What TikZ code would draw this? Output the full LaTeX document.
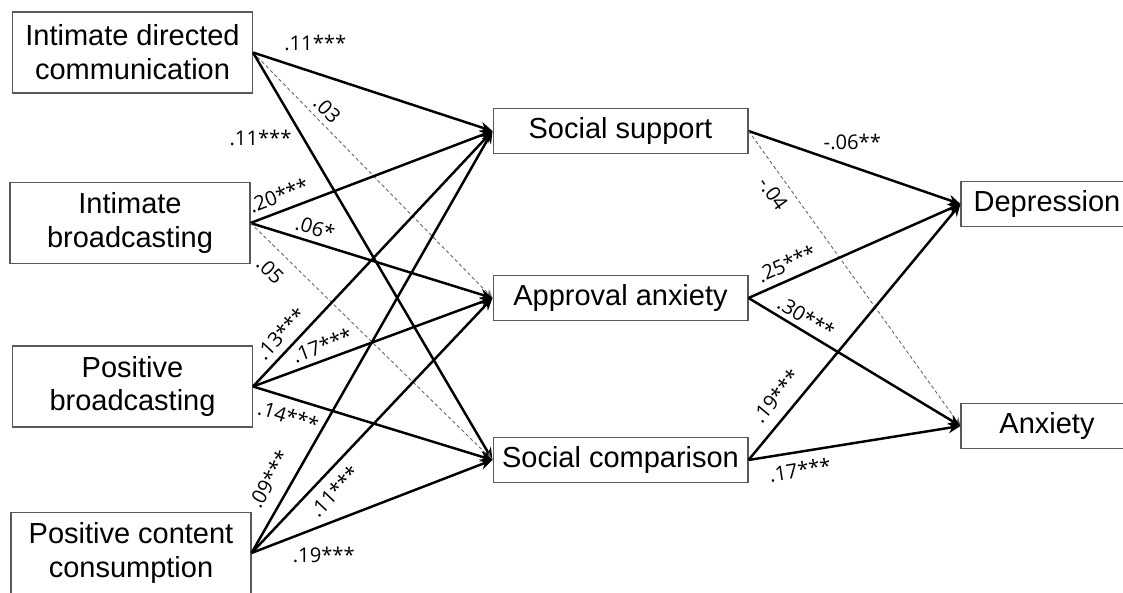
\documentclass[tikz,border=0pt]{standalone}
\usepackage{fontspec}
\setmainfont{Liberation Sans}
\newfontfamily\coeffont{Open Sans}
\usetikzlibrary{arrows.meta, positioning}
\tikzset{
	leftbox/.style={draw=black!65, line width=0.6pt, minimum width=4.8cm, minimum height=1.62cm,
			align=center, font=\fontsize{16.5}{19.3}\selectfont}
}
\tikzset{
	midbox/.style={draw=black!65, line width=0.6pt, minimum width=5.1cm, minimum height=0.9cm,
			font=\fontsize{16.5}{19.3}\selectfont}
}
\tikzset{
	rightbox/.style={midbox, minimum width=3.44cm}
}
\tikzset{
	coef/.style={font=\coeffont\fontsize{11.5}{13}\selectfont, inner sep=2pt}
}

\begin{document}
\begin{tikzpicture}[x=0.02cm, y=-0.02cm]

	\useasboundingbox (0,0) rectangle (1123,592);

	\begin{scope}
		\node[leftbox] (idc) at (132.5,52.5) {Intimate directed\\communication};
		\node[leftbox] (ib) at (130,223) {Intimate\\broadcasting};
		\node[leftbox] (pb) at (132.5,386.5) {Positive\\broadcasting};
		\node[leftbox] (pcc) at (131,553) {Positive content\\consumption};

		\node[midbox] (ss) at (620.5,131) {Social support};
		\node[midbox] (aa) at (620.5,298) {Approval anxiety};
		\node[midbox] (sc) at (620.5,460) {Social comparison};

		\node[rightbox] (dep) at (1047,204) {Depression};
		\node[rightbox] (anx) at (1047,426) {Anxiety};
	\end{scope}

	\begin{scope}
		\tikzset{
			sig/.style={line width=1.4pt, -{Stealth[length=7pt, width=6pt]}},
			nonsig/.style={line width=0.5pt, black!60, dash pattern=on 2pt off 1.5pt,
					-{Stealth[length=5pt, width=4pt]}}
		}

		\draw[sig] (idc.east) -- node[coef, pos=0.26, above=10pt] {.11***} (ss.west);
		\draw[nonsig] (idc.east) -- node[coef, black, pos=0.27, sloped, above=1pt] {.03} (aa.west);
		\draw[sig] (idc.east) -- node[coef, pos=0.21, left=4pt] {.11***} (sc.west);

		\draw[sig] (ib.east) -- node[coef, pos=0.14, sloped, above=2pt] {.20***} (ss.west);
		\draw[sig] (ib.east) -- node[coef, pos=0.25, sloped, above=1pt] {.06*} (aa.west);
		\draw[nonsig] (ib.east) -- node[coef, black, pos=0.14, sloped, below=5pt] {.05} (sc.west);

		\draw[sig] (pb.east) -- node[coef, pos=0.165, sloped, above=2pt] {.13***} (ss.west);
		\draw[sig] (pb.east) -- node[coef, pos=0.31, sloped, above=1pt] {.17***} (aa.west);
		\draw[sig] (pb.east) -- node[coef, pos=0.17, sloped, below=3pt] {.14***} (sc.west);

		\draw[sig] (pcc.east) -- node[coef, pos=0.15, sloped, above=5pt] {.09***} (ss.west);
		\draw[sig] (pcc.east) -- node[coef, pos=0.29, sloped, below=3pt] {.11***} (aa.west);
		\draw[sig] (pcc.east) -- node[coef, pos=0.3, below=10pt] {.19***} (sc.west);

		\draw[sig] (ss.east) -- node[coef, pos=0.49, above=7pt] {-.06**} (dep.west);
		\draw[nonsig] (ss.east) -- node[coef, black, pos=0.18, sloped, below=3pt] {-.04} (anx.west);

		\draw[sig] (aa.east) -- node[coef, pos=0.21, sloped, above=2pt] {.25***} (dep.west);
		\draw[sig] (aa.east) -- node[coef, pos=0.24, sloped, above=0.5pt] {.30***} (anx.west);

		\draw[sig] (sc.east) -- node[coef, pos=0.2, sloped, above=4pt] {.19***} (dep.west);
		\draw[sig] (sc.east) -- node[coef, pos=0.23, sloped, below=3pt] {.17***} (anx.west);
	\end{scope}

\end{tikzpicture}
\end{document}
